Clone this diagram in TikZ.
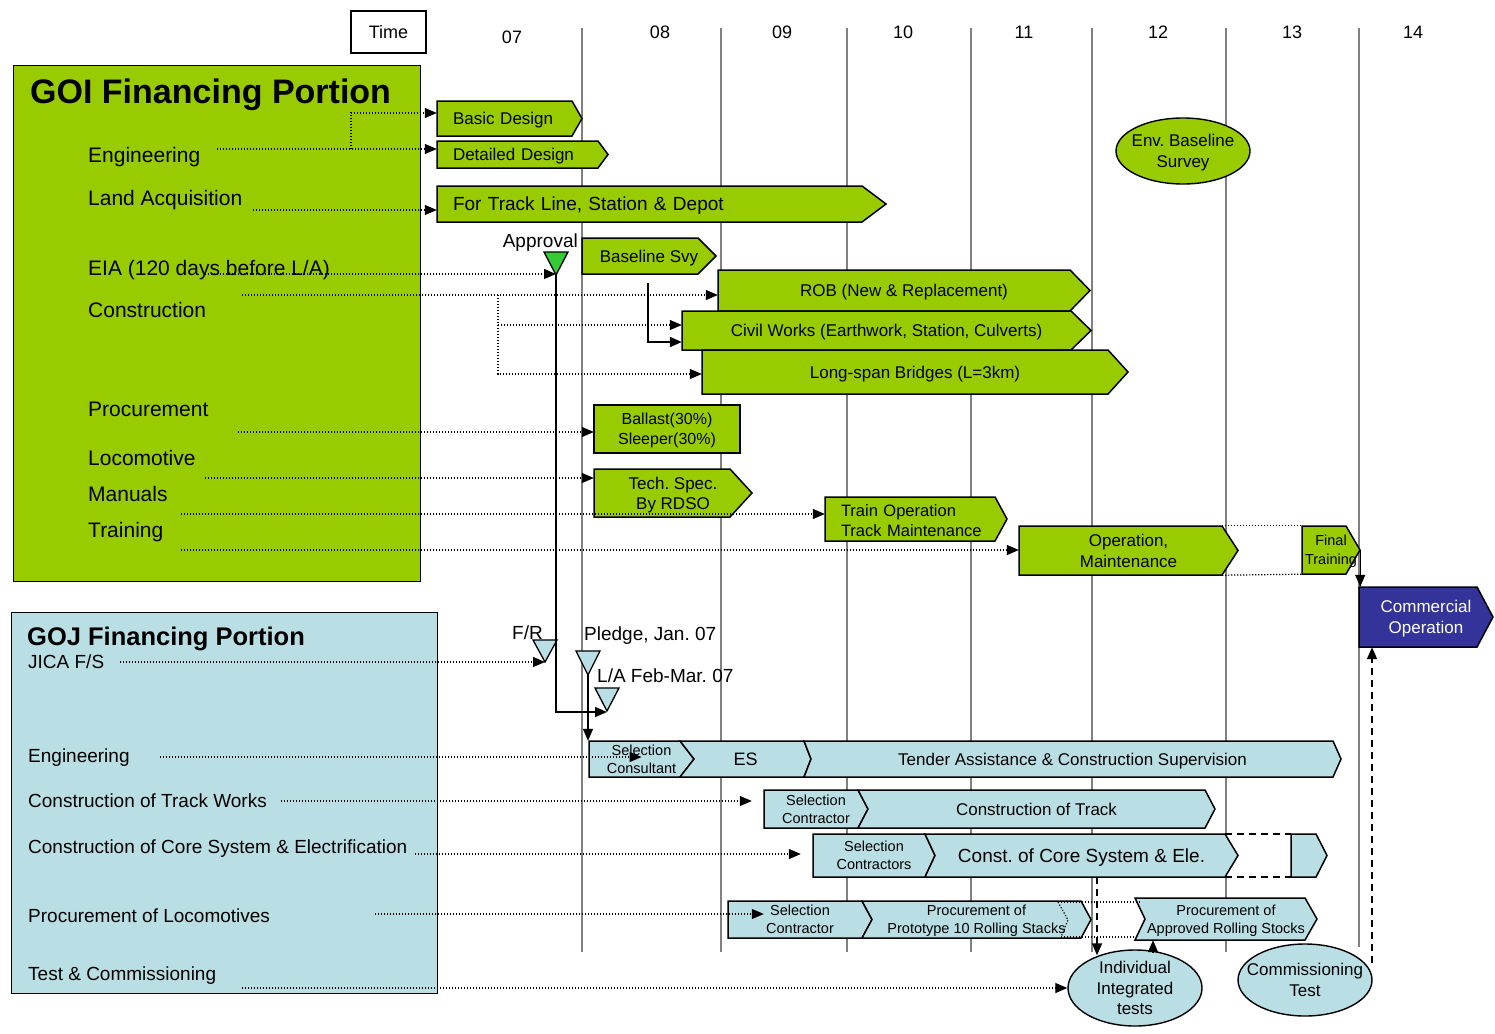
\documentclass[tikz,border=0pt]{standalone}
\usepackage{fontspec}
\setmainfont{Liberation Sans}
\usetikzlibrary{arrows.meta,shapes.geometric,calc}
\definecolor{goigreen}{HTML}{99CC00}
\definecolor{gojblue}{HTML}{B9DFE4}
\definecolor{comblue}{HTML}{333399}
\definecolor{apgreen}{HTML}{33CC33}
\definecolor{gridgray}{HTML}{808080}
\frenchspacing
\newcommand{\fsz}[2]{\fontsize{#1}{#2}\selectfont}
% #1 name, #2 polygon style, #3 node options, #4 x1, #5 y1, #6 x tip, #7 y2, #8 tip depth, #9 notch depth; text follows
\newcommand{\chevbar}[9]{%
  \draw[#2] (#4,#5) -- ({#6-#8},#5) -- (#6,{(#5+#7)/2}) -- ({#6-#8},#7) -- (#4,#7) -- ({#4+#9},{(#5+#7)/2}) -- cycle;
  \node[bartext,minimum width={#6-#4},minimum height={#7-#5},#3] (#1) at ({(#4+#6)/2},{(#5+#7)/2})}
\begin{document}
\begin{tikzpicture}[x=1pt,y=-1pt,
  gbar/.style={draw=black,line width=1.5pt,fill=goigreen,line join=miter},
  jbar/.style={draw=black,line width=1.5pt,fill=gojblue,line join=miter},
  cbar/.style={draw=black,line width=1.5pt,fill=comblue,line join=miter},
  bartext/.style={inner sep=0pt,align=center,text depth=0pt,font=\fsz{17}{20}},
  gridln/.style={gridgray,line width=1.4pt},
  lab/.style={anchor=west,inner sep=0pt,text depth=0pt,font=\fsz{21}{25}},
  jlab/.style={anchor=west,inner sep=0pt,text depth=0pt,font=\fsz{19}{22}},
  yr/.style={inner sep=0pt,text depth=0pt,font=\fsz{18}{21}},
  evlab/.style={anchor=west,inner sep=0pt,text depth=0pt,font=\fsz{19}{22}},
  tri/.style={draw=black,line width=1.3pt,line join=miter},
  arrtip/.style={-{Triangle[length=12pt,width=10pt]}},
  dotline/.style={line width=1.2pt,dash pattern=on 1.2pt off 1.8pt},
  dotarr/.style={dotline,arrtip},
  solarr/.style={line width=1.4pt,arrtip},
  dashline/.style={line width=1.8pt,dash pattern=on 7pt off 5pt},
  dasharr/.style={dashline,arrtip},
  ell/.style={ellipse,draw=black,line width=1.4pt,inner sep=0pt},
  elltext/.style={inner sep=0pt,align=center,text depth=0pt,font=\fsz{17}{21}}]
\useasboundingbox (0,0) rectangle (1495,1033);

% grid lines
\foreach \gx in {582,721,847,971,1092,1226} {\draw[gridln] (\gx,28) -- (\gx,952);}
\draw[gridln] (1359,28) -- (1359,947);

% header
\node[draw,line width=1.4pt,minimum width=75pt,minimum height=42pt,inner sep=0pt,text depth=0pt,font=\fsz{18}{21}] (time) at (388.5,32) {Time};
\node[yr] (y07) at (512,37) {07};
\node[yr] (y08) at (660,32) {08};
\node[yr] (y09) at (782,32) {09};
\node[yr] (y10) at (903,32) {10};
\node[yr] (y11) at (1024,32) {11};
\node[yr] (y12) at (1158,32) {12};
\node[yr] (y13) at (1292,32) {13};
\node[yr] (y14) at (1413,32) {14};

% GOI panel
\node[draw,line width=1.4pt,fill=goigreen,anchor=north west,minimum width=407pt,minimum height=516pt,inner sep=0pt] (goi) at (13,65) {};
\node[anchor=west,inner sep=0pt,text depth=0pt,font=\bfseries\fsz{34}{40}] (goit) at (30,91) {GOI Financing Portion};
\node[lab] (l-eng) at (88,155) {Engineering};
\node[lab] (l-la) at (88,198) {Land Acquisition};
\node[lab] (l-eia) at (88,268) {EIA (120 days before L/A)};
\node[lab] (l-con) at (88,310) {Construction};
\node[lab] (l-proc) at (88,409) {Procurement};
\node[lab] (l-loco) at (88,458) {Locomotive};
\node[lab] (l-man) at (88,494) {Manuals};
\node[lab] (l-tr) at (88,530) {Training};

% GOJ panel
\node[draw,line width=1.4pt,fill=gojblue,anchor=north west,minimum width=426pt,minimum height=381pt,inner sep=0pt] (goj) at (11,612) {};
\node[anchor=west,inner sep=0pt,text depth=0pt,font=\bfseries\fsz{25.5}{30}] (gojt) at (27,636) {GOJ Financing Portion};
\node[jlab] (j-fs) at (28,662) {JICA F/S};
\node[jlab] (j-eng) at (28,756) {Engineering};
\node[jlab] (j-ctw) at (28,801) {Construction of Track Works};
\node[jlab] (j-ccs) at (28,847) {Construction of Core System \& Electrification};
\node[jlab] (j-pl) at (28,916) {Procurement of Locomotives};
\node[jlab] (j-tc) at (28,974) {Test \& Commissioning};

% GOI bars
\chevbar{bd}{gbar}{text width=113pt,align=left}{437}{101}{582}{136}{10}{0}{Basic Design};
\chevbar{dd}{gbar}{text width=139pt,align=left}{437}{141}{608}{168}{10}{0}{Detailed Design};
\chevbar{ftl}{gbar}{text width=417pt,align=left,font=\fsz{19}{22}}{437}{186}{886}{222}{24}{0}{For Track Line, Station \& Depot};
\chevbar{bs}{gbar}{}{582}{238}{716}{274}{18}{0}{Baseline Svy};
\chevbar{rob}{gbar}{}{718}{270}{1090}{311}{20}{0}{ROB (New \& Replacement)};
\chevbar{civ}{gbar}{}{682}{311}{1091}{350}{20}{0}{Civil Works (Earthwork, Station, Culverts)};
\chevbar{lsb}{gbar}{}{702}{350}{1128}{394}{20}{0}{Long-span Bridges (L=3km)};
\chevbar{bal}{gbar}{font=\fsz{16}{20}}{594}{405}{740}{453}{0}{0}{Ballast(30\%)\\Sleeper(30\%)};
\chevbar{tech}{gbar}{}{594}{469}{752}{517}{22}{0}{Tech. Spec.\\By RDSO};
\chevbar{trop}{gbar}{text width=150pt,align=left,text depth={},yshift=-2pt,font=\fsz{16.5}{20}}{825}{497}{1007}{541}{12}{0}{Train Operation\\Track Maintenance};
\chevbar{opm}{gbar}{font=\fsz{17}{21}}{1019}{526}{1238}{575}{16}{0}{Operation,\\Maintenance};
\chevbar{ftr}{gbar}{font=\fsz{14.5}{19}}{1302}{526}{1360}{574}{14}{0}{Final\\Training};
\chevbar{com}{cbar}{text=white,font=\fsz{17}{21}}{1359}{587}{1493}{647}{16}{0}{Commercial\\Operation};

\node[ell,fill=goigreen,minimum width=134pt,minimum height=66pt] (env) at (1183,151) {};
\node[elltext] (env-t) at (env) {Env. Baseline\\Survey};

% milestones
\coordinate (apv) at (556,275);
\draw[tri,fill=apgreen] (544,252) -- (568,252) -- (apv) -- cycle;
\node[evlab,anchor=east] (apvl) at (578,241) {Approval};
\coordinate (frA) at (545,662);
\draw[tri,fill=gojblue] (533,640) -- (557,640) -- (frA) -- cycle;
\node[evlab] (frl) at (512,633) {F/R};
\coordinate (plA) at (588,675);
\draw[tri,fill=gojblue] (576,651) -- (600,651) -- (plA) -- cycle;
\node[evlab] (pll) at (584,634) {Pledge, Jan. 07};
\coordinate (laA) at (607,711);
\draw[tri,fill=gojblue] (595,688) -- (619,688) -- (laA) -- cycle;
\node[evlab] (lal) at (597,676) {L/A Feb-Mar. 07};

% GOJ bars
\chevbar{sc}{jbar}{font=\fsz{14.5}{18}}{589}{741}{694}{777}{14}{0}{Selection\\Consultant};
\chevbar{es}{jbar}{font=\fsz{18}{21}}{680}{741}{811}{777}{7}{14}{ES};
\chevbar{tac}{jbar}{}{804}{741}{1341}{777}{8}{7}{Tender Assistance \& Construction Supervision};
\chevbar{sct}{jbar}{font=\fsz{14.5}{18}}{764}{790}{868}{828}{10}{0}{Selection\\Contractor};
\chevbar{ctr}{jbar}{}{858}{790}{1215}{828}{10}{10}{Construction of Track};
\chevbar{scs}{jbar}{font=\fsz{14.5}{18}}{813}{834}{935}{877}{10}{0}{Selection\\Contractors};
\chevbar{ccore}{jbar}{font=\fsz{19}{22}}{925}{834}{1238}{877}{13}{10}{Const. of Core System \& Ele.};
\chevbar{ccx}{jbar}{}{1291}{834}{1327}{877}{11}{0}{};
\chevbar{slc}{jbar}{font=\fsz{14.5}{18}}{728}{901}{872}{938}{10}{0}{Selection\\Contractor};
\chevbar{proto}{jbar}{font=\fsz{14.5}{18}}{862}{901}{1091}{938}{10}{10}{Procurement of\\Prototype 10 Rolling Stacks};
\chevbar{ars}{jbar}{font=\fsz{14.5}{18}}{1135}{898}{1317}{940}{12}{10}{Procurement of\\Approved Rolling Stocks};

\node[ell,fill=gojblue,minimum width=134pt,minimum height=76pt] (iit) at (1135,988) {};
\node[elltext,font=\fsz{17}{20.5}] (iit-t) at (iit) {Individual\\Integrated\\tests};
\node[ell,fill=gojblue,minimum width=134pt,minimum height=72pt] (ctst) at (1305,980) {};
\node[elltext] (ctst-t) at (ctst) {Commissioning\\Test};

% GOI connectors
\coordinate (s-eng) at (217,149);
\draw[dotarr] (s-eng) -- (s-eng -| dd.west);
\coordinate (s-engb) at (351,149);
\coordinate (s-bd) at (351,113);
\draw[dotarr] (s-engb) -- (s-bd) -- (s-bd -| bd.west);
\coordinate (s-la) at (253,210);
\draw[dotarr] (s-la) -- (s-la -| ftl.west);
\coordinate (s-eia) at (205,274);
\draw[dotarr] (s-eia) -- (s-eia -| apv);
\coordinate (s-con) at (242,295);
\draw[dotarr] (s-con) -- (s-con -| rob.west);
\coordinate (s-conb) at (498,295);
\coordinate (s-civ) at (498,325);
\coordinate (s-lsb) at (498,374);
\draw[dotarr] (s-conb) -- (s-lsb) -- (s-lsb -| lsb.west);
\draw[dotarr] (s-civ) -- (s-civ -| civ.west);
\coordinate (s-bs) at (648,283);
\coordinate (s-bsk) at (648,342);
\draw[solarr,line width=2pt] (s-bs) -- (s-bsk) -- (s-bsk -| civ.west);
\coordinate (s-proc) at (238,432);
\draw[dotarr] (s-proc) -- (s-proc -| bal.west);
\coordinate (s-loco) at (205,478);
\draw[dotarr] (s-loco) -- (s-loco -| tech.west);
\coordinate (s-man) at (181,514);
\draw[dotarr] (s-man) -- (s-man -| trop.west);
\coordinate (s-tr) at (181,550);
\draw[dotarr] (s-tr) -- (s-tr -| opm.west);
\draw[dotline] ([xshift=-16pt]opm.north east) -- (ftr.north west);
\draw[dotline] ([xshift=-16pt]opm.south east) -- (ftr.south west);
\draw[solarr] (ftr.east) -- (ftr.east |- com.north);

% milestone connectors
\coordinate (apvK) at (556,712);
\draw[solarr] (apv) -- (apvK) -- (apvK -| laA);
\draw[solarr] (plA) -- (plA |- sc.north);

% GOJ connectors
\coordinate (s-jica) at (120,662);
\draw[dotarr] (s-jica) -- (s-jica -| frA);
\coordinate (s-geng) at (160,757);
\draw[dotarr] (s-geng) -- (s-geng -| sc.center);
\coordinate (s-ctw) at (281,801);
\draw[dotarr] (s-ctw) -- ($(s-ctw -| sct.west)+(-12,0)$);
\coordinate (s-ccs) at (415,854);
\draw[dotarr] (s-ccs) -- ($(s-ccs -| scs.west)+(-12,0)$);
\coordinate (s-pl) at (375,914);
\draw[dotarr] (s-pl) -- ($(s-pl -| slc.west)+(36,0)$);
\coordinate (s-tc) at (242,988);
\draw[dotarr] (s-tc) -- (s-tc -| iit.west);

\draw[dashline] ([xshift=-13pt]ccore.north east) -- (ccx.north west);
\draw[dashline] ([xshift=-13pt]ccore.south east) -- (ccx.south west);
\draw[dotline] (1058,902) -- (1068,920) -- (1061,937);
\draw[dotline] (1058,902) -- (1140,902);
\draw[dotline] (1061,937) -- (1136,937);

\coordinate (s-cd) at (1097,877);
\draw[dasharr] (s-cd) -- ($(s-cd |- iit.north)+(0,6)$);
\coordinate (s-iu) at (1153,952);
\draw[solarr] (s-iu) -- (s-iu |- ars.south);
\coordinate (s-ct) at (1372,963);
\draw[dasharr] (s-ct) -- (s-ct |- com.south);
\end{tikzpicture}
\end{document}
